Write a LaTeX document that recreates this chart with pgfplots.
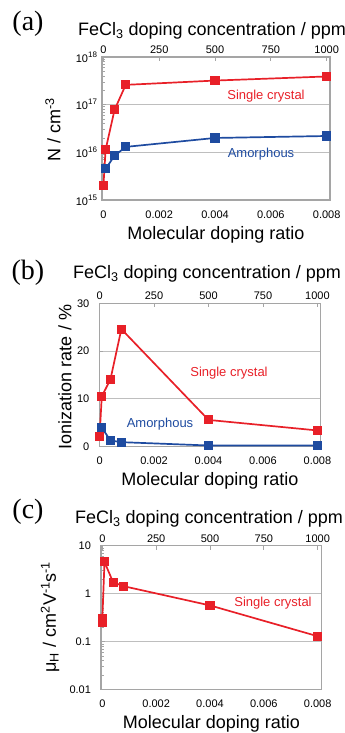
\documentclass[border=0pt]{standalone}
\usepackage{fontspec}
\setmainfont{Liberation Sans}
\newfontfamily\seriffont{Liberation Serif}
\usepackage{pgfplots}
\pgfplotsset{compat=1.18}
\definecolor{sc}{RGB}{232,32,40}
\definecolor{am}{RGB}{30,75,160}
\definecolor{axgray}{RGB}{165,165,165}
\definecolor{gridgray}{RGB}{190,190,190}
\newcommand{\sups}[1]{\raisebox{0.9ex}{\fontsize{8}{9}\selectfont #1}}
\pgfplotsset{
 base/.style={scale only axis, clip=false, anchor=south west,
   axis line style={draw=axgray, line width=1.4pt},
   /pgf/number format/assume math mode=true,
   tick label style={font=\fontsize{11}{12}\selectfont, text=black},
   label style={font=\fontsize{18}{20}\selectfont},
   scaled x ticks=false, scaled y ticks=false,
 },
 mainax/.style={base,
   xtick={0,0.002,0.004,0.006,0.008}, xticklabels={0,0.002,0.004,0.006,0.008},
   xtick pos=bottom, ytick pos=left,
   xtick style={draw=none},
   ytick style={draw=axgray, line width=0.7pt},
   tick align=inside, major tick length=4pt, minor tick length=2.5pt,
   ymajorgrids, major grid style={draw=gridgray, line width=0.8pt},
   xticklabel style={yshift=-7pt},
   xlabel={Molecular doping ratio},
 },
 topax/.style={base, axis x line*=top, axis y line=none, ymin=0, ymax=1,
   xtick={0,250,500,750,1000}, xticklabels={0,250,500,750,1000},
   tick align=inside, major tick length=4pt,
   xtick style={draw=axgray, line width=0.7pt},
 },
 scl/.style={color=sc, line width=1.7pt, mark=square*, mark size=3.7pt},
 aml/.style={color=am, line width=1.7pt, mark=square*, mark size=3.7pt},
}
\begin{document}
\begin{tikzpicture}
\path[use as bounding box] (0,0) rectangle (345pt,733pt);
% ---------------- (a)
\begin{axis}[mainax, at={(102pt,533pt)}, width=228pt, height=143pt,
  xmin=-0.00005, xmax=0.00812, ymode=log, ymin=1e15, ymax=1e18,
  ytick={1e15,1e16,1e17,1e18},
  yticklabels={10\sups{15},10\sups{16},10\sups{17},10\sups{18}},
  minor ytick={2e15,3e15,4e15,5e15,6e15,7e15,8e15,9e15,2e16,3e16,4e16,5e16,6e16,7e16,8e16,9e16,2e17,3e17,4e17,5e17,6e17,7e17,8e17,9e17},
  yticklabel style={xshift=-1.5pt},
  xlabel style={at={(axis description cs:0.5,-0.245)}, anchor=center},
  ylabel={N / cm\textsuperscript{-3}},
  ylabel style={at={(axis description cs:-0.215,0.49)}, anchor=center}]
\addplot[scl] coordinates {(0,2.0e15) (0.00008,1.14e16) (0.0004,7.8e16) (0.0008,2.6e17) (0.004,3.2e17) (0.008,3.9e17)};
\addplot[aml] coordinates {(0.00008,4.5e15) (0.0004,8.5e15) (0.0008,1.3e16) (0.004,2.0e16) (0.008,2.2e16)};
\end{axis}
\begin{axis}[topax, at={(102pt,533pt)}, width=228pt, height=143pt, xmin=-6.25, xmax=1015]
\end{axis}
% ---------------- (b)
\begin{axis}[mainax, at={(99.3pt,286.3pt)}, width=221.4pt, height=143.4pt,
  xmin=-0.00001, xmax=0.00812, ymin=0, ymax=30,
  ytick={0,10,20,30}, yticklabels={0,10,20,30},
  yticklabel style={xshift=-6.5pt},
  xlabel style={at={(axis description cs:0.5,-0.239)}, anchor=center},
  ylabel={Ionization rate / \%},
  ylabel style={at={(axis description cs:-0.155,0.486)}, anchor=center}]
\addplot[scl] coordinates {(0,2.1) (0.00008,10.5) (0.0004,14.1) (0.0008,24.6) (0.004,5.6) (0.008,3.4)};
\addplot[aml] coordinates {(0.00008,4.0) (0.0004,1.3) (0.0008,0.95) (0.004,0.25) (0.008,0.25)};
\end{axis}
\begin{axis}[topax, at={(99.3pt,286.3pt)}, width=221.4pt, height=143.4pt, xmin=-1.25, xmax=1015]
\end{axis}
% ---------------- (c)
\begin{axis}[mainax, at={(101pt,43.3pt)}, width=220.7pt, height=144pt,
  xmin=-0.00005, xmax=0.00815, ymode=log, ymin=0.01, ymax=10,
  ytick={0.01,0.1,1,10}, yticklabels={0.01,0.1,1,10},
  minor ytick={0.02,0.03,0.04,0.05,0.06,0.07,0.08,0.09,0.2,0.3,0.4,0.5,0.6,0.7,0.8,0.9,2,3,4,5,6,7,8,9},
  yticklabel style={xshift=-6.5pt},
  xlabel style={at={(axis description cs:0.5,-0.24)}, anchor=center},
  ylabel={μ\textsubscript{H} / cm\textsuperscript{2}V\textsuperscript{-1}s\textsuperscript{-1}},
  ylabel style={at={(axis description cs:-0.231,0.505)}, anchor=center}]
\addplot[scl] coordinates {(0,0.25) (0,0.30) (0.00008,4.6) (0.0004,1.73) (0.0008,1.43) (0.004,0.57) (0.008,0.13)};
\end{axis}
\begin{axis}[topax, at={(101pt,43.3pt)}, width=220.7pt, height=144pt, xmin=-6.25, xmax=1018.75]
\end{axis}
% ---------------- texts
\begin{scope}[every node/.style={font=\fontsize{13}{15}\selectfont}]
\node[text=sc] at (266pt,637.3pt) {Single crystal};
\node[text=am] at (261pt,579pt) {Amorphous};
\node[text=sc] at (229pt,360.3pt) {Single crystal};
\node[text=am] at (160pt,309.3pt) {Amorphous};
\node[text=sc] at (273pt,130.3pt) {Single crystal};
\end{scope}
\begin{scope}[every node/.style={font=\fontsize{18}{20}\selectfont, anchor=base west, inner sep=0pt}]
\node at (78pt,697pt) {FeCl\textsubscript{3} doping concentration / ppm};
\node at (73pt,454.7pt) {FeCl\textsubscript{3} doping concentration / ppm};
\node at (75pt,209.7pt) {FeCl\textsubscript{3} doping concentration / ppm};
\end{scope}
\begin{scope}[every node/.style={font=\seriffont\fontsize{28}{30}\selectfont, inner sep=0pt}]
\node at (28pt,709pt) {(a)};
\node at (28pt,460.5pt) {(b)};
\node at (28pt,221pt) {(c)};
\end{scope}
\end{tikzpicture}
\end{document}
